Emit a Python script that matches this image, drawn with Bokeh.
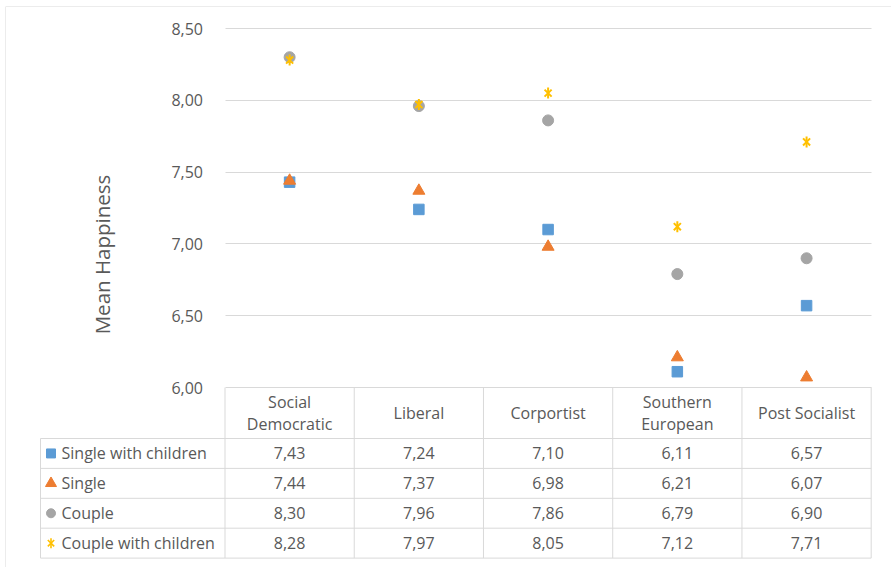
import math
from bokeh.plotting import figure
from bokeh.models import Range1d, FixedTicker, Span
from bokeh.core.properties import value
from bokeh.embed import file_html
from bokeh.resources import INLINE

# ---------------- data ----------------
categories = ["Social\nDemocratic", "Liberal", "Corportist", "Southern\nEuropean", "Post Socialist"]
series_names = ["Single with children", "Single", "Couple", "Couple with children"]
single_with_children = [7.43, 7.24, 7.10, 6.11, 6.57]
single = [7.44, 7.37, 6.98, 6.21, 6.07]
couple = [8.30, 7.96, 7.86, 6.79, 6.90]
couple_with_children = [8.28, 7.97, 8.05, 7.12, 7.71]
y_ticks = [6.0, 6.5, 7.0, 7.5, 8.0, 8.5]
y_tick_labels = ["6,00", "6,50", "7,00", "7,50", "8,00", "8,50"]
axis_title = "Mean Happiness"

series_values = [single_with_children, single, couple, couple_with_children]
series_colors = ["#5B9BD5", "#ED7D31", "#A5A5A5", "#FFC000"]


def fmt(v):
    return f"{v:.2f}".replace(".", ",")


# ---------------- layout constants (pixels) ----------------
W, H = 891, 567
FL, FT = 5, 6             # frame left / top
X0_PX = 224.5             # pixel of x = -0.5 (plot area left)
CW = 129.24               # pixels per category
Y_BASE_PX = 387.0         # pixel of value 6.0
PU = 143.6                # pixels per happiness unit
T0_PX = 438.0             # pixel of table header bottom
RH = 29.9                 # table row height
LEG_LEFT_PX = 40.0
LEG_MARK_PX = 50.5
LEG_TEXT_PX = 61.0

TEXT_COLOR = "#595959"
LINE_COLOR = "#D9D9D9"
FONT = "Open Sans"


def px_to_x(px):
    return -0.5 + (px - X0_PX) / CW


x_start = px_to_x(FL)
x_end = px_to_x(W)
y_start = y_ticks[0] - (H - Y_BASE_PX) / PU
y_end = y_ticks[0] + (Y_BASE_PX - FT) / PU
t_bottom = (H - T0_PX) / RH
t_top = -(T0_PX - FT) / RH
t_header_top = -(T0_PX - Y_BASE_PX) / RH

p = figure(width=W, height=H,
           x_range=Range1d(x_start, x_end), y_range=Range1d(y_start, y_end),
           output_backend="svg", toolbar_location=None, x_axis_location=None,
           min_border_left=FL, min_border_top=FT, min_border_right=0, min_border_bottom=0)
p.extra_y_ranges = {"table": Range1d(start=t_bottom, end=t_top)}
p.outline_line_color = None
p.background_fill_color = "white"
p.border_fill_color = "white"

# outer border (left/top edges visible in the reference)
p.add_layout(Span(location=x_start, dimension="height", line_color=LINE_COLOR, line_width=1))
p.add_layout(Span(location=y_end, dimension="width", line_color=LINE_COLOR, line_width=1))

xs = list(range(len(categories)))

# ---------------- y axis ----------------
ax = p.yaxis[0]
ax.fixed_location = -0.5
ax.ticker = FixedTicker(ticks=y_ticks)
ax.major_label_overrides = {t: l for t, l in zip(y_ticks, y_tick_labels)}
ax.bounds = (5.35, y_ticks[-1])
ax.axis_line_color = None
ax.major_tick_line_color = None
ax.minor_tick_line_color = None
ax.major_tick_out = 0
ax.major_tick_in = 0
ax.major_label_standoff = 22
ax.major_label_text_font = FONT
ax.major_label_text_font_size = "16px"
ax.major_label_text_color = TEXT_COLOR
ax.axis_label = axis_title
ax.axis_label_text_font = FONT
ax.axis_label_text_font_size = "20.5px"
ax.axis_label_text_font_style = "normal"
ax.axis_label_text_color = TEXT_COLOR
ax.axis_label_standoff = 53

p.xgrid.visible = False
p.ygrid.grid_line_color = LINE_COLOR
p.ygrid.grid_line_width = 1
try:
    p.ygrid.cross_bounds = (-0.5, len(categories) - 0.5)
except Exception:
    p.ygrid.visible = False
    p.segment(x0=[-0.5] * len(y_ticks), x1=[len(categories) - 0.5] * len(y_ticks),
              y0=y_ticks, y1=y_ticks, line_color=LINE_COLOR, line_width=1)

# ---------------- scatter points ----------------
p.scatter(xs, single_with_children, marker="square", size=10.5, color=series_colors[0])
p.scatter(xs, single, marker="triangle", size=12, color=series_colors[1])
p.scatter(xs, couple, marker="circle", size=11, color=series_colors[2])
p.scatter(xs, couple_with_children, marker="x", size=10, line_color=series_colors[3], line_width=2)
p.scatter(xs, couple_with_children, marker="dash", angle=math.pi / 2, size=11,
          line_color=series_colors[3], line_width=2)

# ---------------- data table ----------------
leg_left = px_to_x(LEG_LEFT_PX)
n_rows = len(series_names)
right = len(categories) - 0.5
# horizontal lines
p.segment(x0=[leg_left] * (n_rows + 1), x1=[right] * (n_rows + 1),
          y0=list(range(n_rows + 1)), y1=list(range(n_rows + 1)),
          line_color=LINE_COLOR, line_width=1, y_range_name="table")
# vertical lines
bounds_x = [i - 0.5 for i in range(len(categories) + 1)]
p.segment(x0=bounds_x, x1=bounds_x, y0=[t_header_top] * len(bounds_x), y1=[n_rows] * len(bounds_x),
          line_color=LINE_COLOR, line_width=1, y_range_name="table")
p.segment(x0=[leg_left], x1=[leg_left], y0=[0], y1=[n_rows],
          line_color=LINE_COLOR, line_width=1, y_range_name="table")

# header
p.text(x=xs, y=[t_header_top / 2] * len(xs), text=categories, text_align="center",
       text_baseline="middle", text_font=value(FONT), text_font_size="16px",
       text_color=TEXT_COLOR, text_line_height=1.0, y_range_name="table")

# values
for i, vals in enumerate(series_values):
    p.text(x=xs, y=[i + 0.5] * len(xs), text=[fmt(v) for v in vals], text_align="center",
           text_baseline="middle", text_font=value(FONT), text_font_size="16px",
           text_color=TEXT_COLOR, y_range_name="table")

# legend column
row_mid = [i + 0.5 for i in range(n_rows)]
p.text(x=[px_to_x(LEG_TEXT_PX)] * n_rows, y=row_mid, text=series_names, text_align="left",
       text_baseline="middle", text_font=value(FONT), text_font_size="16px",
       text_color=TEXT_COLOR, y_range_name="table")
mx = px_to_x(LEG_MARK_PX)
p.scatter([mx], [row_mid[0]], marker="square", size=9, color=series_colors[0], y_range_name="table")
p.scatter([mx], [row_mid[1]], marker="triangle", size=11, color=series_colors[1], y_range_name="table")
p.scatter([mx], [row_mid[2]], marker="circle", size=9, color=series_colors[2], y_range_name="table")
p.scatter([mx], [row_mid[3]], marker="x", size=9, line_color=series_colors[3], line_width=1.6,
          y_range_name="table")
p.scatter([mx], [row_mid[3]], marker="dash", angle=math.pi / 2, size=10, line_color=series_colors[3],
          line_width=1.6, y_range_name="table")

open("out.html", "w").write(file_html(p, INLINE))
